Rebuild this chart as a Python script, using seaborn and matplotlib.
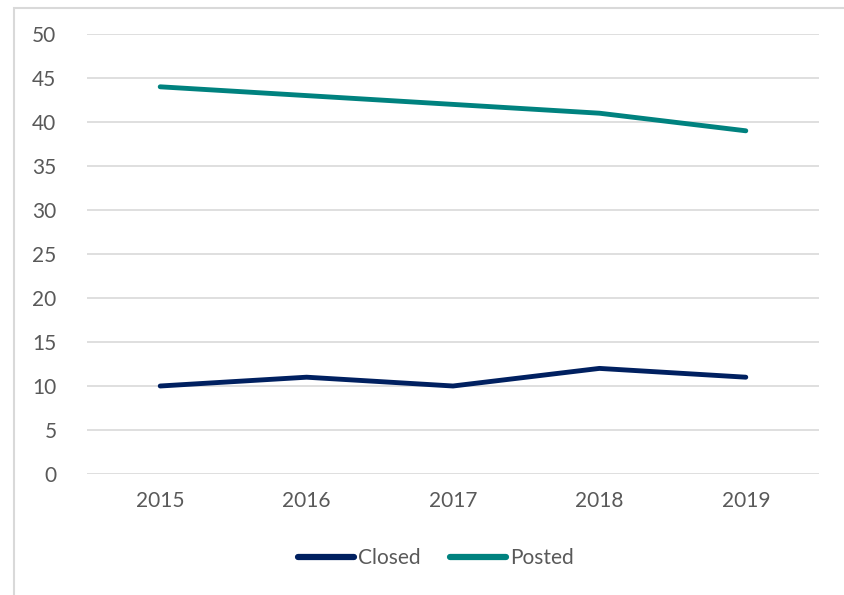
import matplotlib
matplotlib.use("Agg")
import matplotlib.pyplot as plt
import seaborn as sns
import pandas as pd
from matplotlib.patches import Rectangle
from matplotlib.lines import Line2D

years = ["2015", "2016", "2017", "2018", "2019"]
closed = [10, 11, 10, 12, 11]
posted = [44, 43, 42, 41, 39]

series_names = ["Closed", "Posted"]
series_colors = {"Closed": "#002060", "Posted": "#00827F"}

df = pd.DataFrame({"year": years * 2,
                   "value": closed + posted,
                   "series": ["Closed"] * len(years) + ["Posted"] * len(years)})

sns.set_style("white")
plt.rcParams["font.family"] = ["Lato", "DejaVu Sans"]

fig = plt.figure(figsize=(8.45, 5.95), dpi=100)
ax = fig.add_axes([87 / 845, 1 - 474 / 595, (819 - 87) / 845, (474 - 34) / 595])

sns.lineplot(data=df, x="year", y="value", hue="series", hue_order=series_names,
             palette=series_colors, linewidth=3.5, ax=ax, legend=False,
             sort=False, solid_capstyle="round")

ax.set_xlim(-0.5, len(years) - 0.5)
ax.set_ylim(0, 50)
ax.set_yticks(range(0, 51, 5))
ax.yaxis.grid(True, color="#d9d9d9", linewidth=1.2)
ax.set_axisbelow(True)
for s in ax.spines.values():
    s.set_visible(False)
ax.tick_params(axis="both", length=0, labelsize=15, labelcolor="#595959")
ax.tick_params(axis="y", pad=22)
ax.tick_params(axis="x", pad=12)
ax.set_xlabel("")
ax.set_ylabel("")

# legend below the plot
handles = [Line2D([], [], color=series_colors[n], linewidth=4.5, solid_capstyle="round")
           for n in series_names]
fig.legend(handles, series_names, loc="center", bbox_to_anchor=(436 / 845, 1 - 558 / 595),
           ncol=2, frameon=False, fontsize=15, labelcolor="#595959",
           handlelength=2.7, handletextpad=0.2, columnspacing=1.4)

# chart area border (runs off the right and bottom edges)
fig.patches.append(Rectangle((14 / 845, -0.05), 1.1, 1 - 8 / 595 + 0.05,
                             transform=fig.transFigure, fill=False,
                             edgecolor="#d9d9d9", linewidth=1.5, clip_on=False))

fig.savefig("out.png", dpi=100)
